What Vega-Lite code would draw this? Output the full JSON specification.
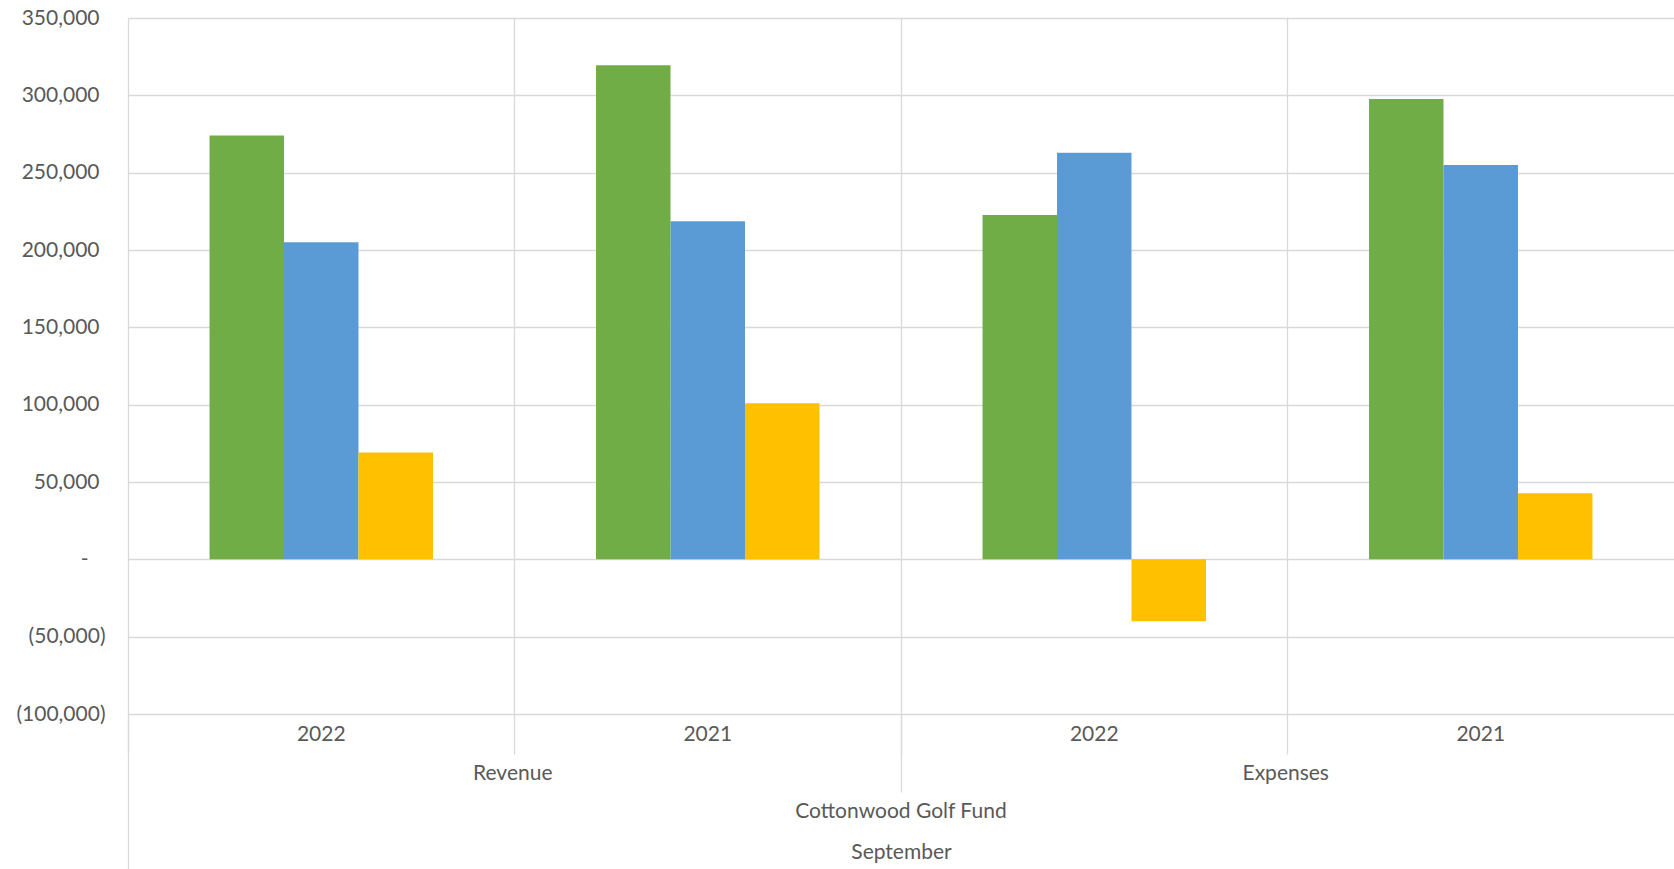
{
  "$schema": "https://vega.github.io/schema/vega-lite/v6.json",
  "autosize": "none",
  "width": 1546,
  "height": 696,
  "padding": {"left": 128, "top": 18, "right": 0, "bottom": 155},
  "background": "white",
  "config": {
    "view": {"stroke": null},
    "axis": {
      "labelFont": "Lato", "labelColor": "#595959", "labelFontSize": 21,
      "titleFont": "Lato", "titleColor": "#595959", "titleFontSize": 21, "titleFontWeight": "normal",
      "gridColor": "#d9d9d9", "tickColor": "#d9d9d9", "domainColor": "#d9d9d9"
    },
    "axisX": {"labelAngle": 0, "labelLimit": 0, "labelOverlap": false}
  },
  "data": {
    "values": [
      {"cat": "Revenue|2022", "series": "Actual", "value": 274000},
      {"cat": "Revenue|2022", "series": "Budget", "value": 205000},
      {"cat": "Revenue|2022", "series": "Variance", "value": 69000},
      {"cat": "Revenue|2021", "series": "Actual", "value": 319500},
      {"cat": "Revenue|2021", "series": "Budget", "value": 218600},
      {"cat": "Revenue|2021", "series": "Variance", "value": 100900},
      {"cat": "Expenses|2022", "series": "Actual", "value": 222700},
      {"cat": "Expenses|2022", "series": "Budget", "value": 262800},
      {"cat": "Expenses|2022", "series": "Variance", "value": -40100},
      {"cat": "Expenses|2021", "series": "Actual", "value": 297700},
      {"cat": "Expenses|2021", "series": "Budget", "value": 255000},
      {"cat": "Expenses|2021", "series": "Variance", "value": 42700}
    ]
  },
  "layer": [
    {
      "mark": {"type": "bar"},
      "encoding": {
        "x": {
          "field": "cat", "type": "nominal",
          "scale": {"domain": ["Revenue|2022", "Revenue|2021", "Expenses|2022", "Expenses|2021"], "paddingInner": 0.0365, "paddingOuter": 0.01825},
          "axis": {"orient": "bottom", "bandPosition": -0.01894, "grid": true, "gridWidth": 1.3, "ticks": true, "tickSize": 40, "tickWidth": 1.3, "labels": false, "domain": false, "title": null}
        },
        "xOffset": {
          "field": "series", "type": "nominal",
          "scale": {"domain": ["Actual", "Budget", "Variance"], "paddingInner": 0, "paddingOuter": 1}
        },
        "y": {
          "field": "value", "type": "quantitative",
          "scale": {"domain": [-100000, 350000], "nice": false},
          "axis": {
            "values": [-100000, -50000, 0, 50000, 100000, 150000, 200000, 250000, 300000, 350000],
            "grid": true, "gridWidth": 1.3, "ticks": false, "domain": false, "title": null,
            "labelPadding": {"condition": [{"test": "datum.value == 0", "value": 40}, {"test": "datum.value < 0", "value": 23}], "value": 29},
            "labelExpr": "datum.value == 0 ? '-' : (datum.value < 0 ? '(' + format(-datum.value, ',') + ')' : format(datum.value, ','))"
          }
        },
        "color": {
          "field": "series", "type": "nominal",
          "scale": {"domain": ["Actual", "Budget", "Variance"], "range": ["#70AD47", "#5B9BD5", "#FFC000"]},
          "legend": null
        }
      }
    },
    {
      "mark": {"type": "rule", "opacity": 0},
      "encoding": {
        "x": {
          "field": "cat", "type": "nominal",
          "scale": {"domain": ["Revenue|2022", "Revenue|2021", "Expenses|2022", "Expenses|2021"]},
          "axis": {"orient": "bottom", "ticks": false, "grid": false, "domain": false, "labelPadding": 9, "labelExpr": "split(datum.label, '|')[1]", "title": null}
        }
      }
    },
    {
      "mark": {"type": "rule", "opacity": 0},
      "encoding": {
        "x": {
          "field": "cat", "type": "nominal",
          "scale": {"domain": ["Revenue|2022", "Revenue|2021", "Expenses|2022", "Expenses|2021"]},
          "axis": {"orient": "bottom", "values": ["Revenue|2021", "Expenses|2021"], "bandPosition": -0.01894, "ticks": false, "grid": false, "domain": false, "labelPadding": 48, "labelOffset": -195, "labelExpr": "split(datum.label, '|')[0]", "title": null}
        }
      }
    },
    {
      "mark": {"type": "rule", "opacity": 0},
      "encoding": {
        "x": {
          "field": "cat", "type": "nominal",
          "scale": {"domain": ["Revenue|2022", "Revenue|2021", "Expenses|2022", "Expenses|2021"]},
          "axis": {"orient": "bottom", "values": ["Expenses|2022"], "bandPosition": -0.01894, "ticks": true, "tickSize": 78, "tickWidth": 1.3, "grid": false, "domain": false, "labelPadding": 8, "labelOffset": -193.3, "labelExpr": "'Cottonwood Golf Fund'", "title": "September", "titlePadding": 20}
        }
      }
    },
    {
      "mark": {"type": "rule", "opacity": 0},
      "encoding": {
        "x": {
          "field": "cat", "type": "nominal",
          "scale": {"domain": ["Revenue|2022", "Revenue|2021", "Expenses|2022", "Expenses|2021"]},
          "axis": {"orient": "bottom", "values": ["Revenue|2022"], "bandPosition": -0.01894, "ticks": true, "tickSize": 160, "tickWidth": 1.3, "grid": false, "domain": false, "labels": false, "title": null}
        }
      }
    }
  ],
  "resolve": {"axis": {"x": "independent"}}
}
